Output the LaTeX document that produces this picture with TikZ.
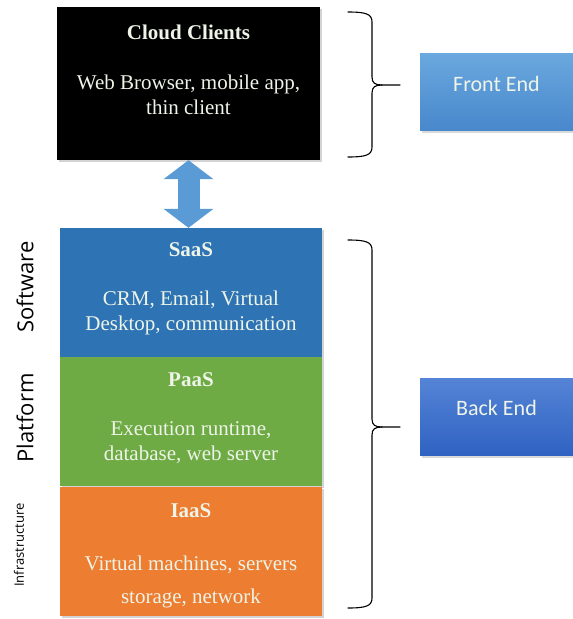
\documentclass[tikz,border=0pt]{standalone}
\usepackage{fontspec}
\setmainfont{Liberation Serif}
\newfontfamily\endfont{Carlito}
\newfontfamily\sidefont{Open Sans}
\usetikzlibrary{arrows.meta,shadows,positioning}

\definecolor{saasblue}{HTML}{2E74B5}
\definecolor{paasgreen}{HTML}{6FAB45}
\definecolor{iaasorange}{HTML}{ED7D31}
\definecolor{arrowblue}{HTML}{5B9BD5}
\definecolor{frontA}{HTML}{6AA8DE}
\definecolor{frontB}{HTML}{4888CC}
\definecolor{backA}{HTML}{5584D6}
\definecolor{backB}{HTML}{2F62C2}
\definecolor{boxtext}{HTML}{EEF4E8}

\begin{document}
\begin{tikzpicture}[x=1pt, y=-1pt, line join = round, line cap = round,
		layer/.style={rectangle, minimum width=262pt, minimum height=129pt, inner sep=0pt,
			drop shadow={shadow xshift=1.5pt, shadow yshift=-2pt, opacity=0.35}},
		layertext/.style={inner sep=0pt, text=boxtext, align=center,
			font=\fontsize{21}{25}\selectfont},
		endbox/.style={rectangle, minimum width=153pt, minimum height=77pt, inner sep=0pt,
			drop shadow={shadow xshift=1.5pt, shadow yshift=-2.5pt, opacity=0.3}},
		endtext/.style={inner sep=0pt, text=boxtext, font=\endfont\fontsize{22}{26}\selectfont},
		side/.style={rotate=90, inner sep=0pt, font=\sidefont\fontsize{22}{26}\selectfont},
		brace/.style={draw=black, line width=1.1pt}]
	\useasboundingbox (0,0) rectangle (573,619);
	% client side
	\node[layer, fill=black, minimum width=263pt, minimum height=153pt] (cloud) at (188.5,83.5) {};
	\node[layertext, anchor=north] (cloudtxt) at ([yshift=-18pt]cloud.north)
		{\textbf{Cloud Clients}\\[25pt] Web Browser, mobile app,\\ thin client};
	% service stack
	\node[layer, fill=saasblue] (saas) at (191,292.5) {};
	\node[layer, fill=paasgreen, below=0pt of saas] (paas) {};
	\node[layer, fill=iaasorange, below=0pt of paas] (iaas) {};
	\node[layertext, anchor=north] (saastxt) at ([yshift=-15pt]saas.north)
		{\textbf{SaaS}\\[24pt] CRM, Email, Virtual\\ Desktop, communication};
	\node[layertext, anchor=north] (paastxt) at ([yshift=-15pt]paas.north)
		{\textbf{PaaS}\\[24pt] Execution runtime,\\ database, web server};
	\node[layertext, anchor=north] (iaastxt) at ([yshift=-17pt]iaas.north)
		{\textbf{IaaS}\\[28pt] Virtual machines, servers\\[8pt] storage, network};
	\node[side] (software) at (25,287) {Software};
	\node[side] (platform) at (25,418) {Platform};
	\node[side, font=\sidefont\fontsize{13}{15}\selectfont] (infra) at (19,545) {Infrastructure};
	% link
	\draw[arrowblue, line width=22pt, line cap=butt,
		{Triangle[width=50pt,length=19pt,line width=0pt]}-{Triangle[width=50pt,length=19pt,line width=0pt]}]
		(cloud.south) -- (cloud.south |- saas.north);
	% ends
	\node[endbox, top color=frontA, bottom color=frontB] (front) at (496.5,91.5) {};
	\node[endtext] (fronttxt) at ([yshift=8pt]front.center) {Front End};
	\node[endbox, top color=backA, bottom color=backB] (back) at (496.5,417) {};
	\node[endtext] (backtxt) at ([yshift=9pt]back.center) {Back End};
	% braces
	\draw[brace] (348,12) .. controls (366,12) and (372,14) .. (372,22) -- (372,77)
		.. controls (372,83) and (375,85) .. (382,85) -- (400,85);
	\draw[brace] (348,157) .. controls (366,157) and (372,155) .. (372,147) -- (372,93)
		.. controls (372,87) and (375,85) .. (382,85);
	\draw[brace] (348,240) .. controls (366,240) and (372,242) .. (372,250) -- (372,419)
		.. controls (372,425) and (375,427) .. (382,427) -- (400,427);
	\draw[brace] (348,608) .. controls (366,608) and (372,606) .. (372,598) -- (372,435)
		.. controls (372,429) and (375,427) .. (382,427);
\end{tikzpicture}
\end{document}
